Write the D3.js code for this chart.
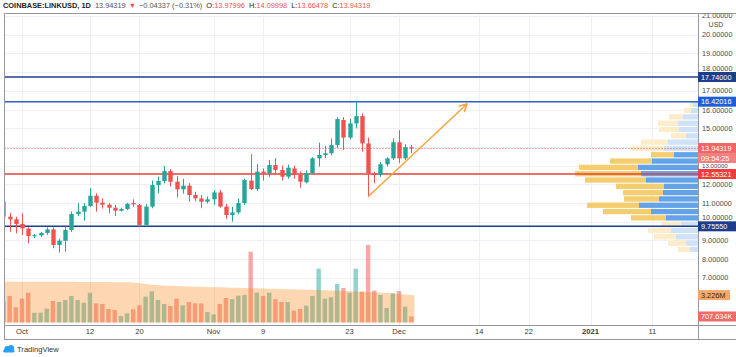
<!DOCTYPE html>
<html><head><meta charset="utf-8">
<script src="https://cdn.jsdelivr.net/npm/d3@7"></script>
<style>body{margin:0;background:#fff}svg{display:block}text{font-family:"Liberation Sans",Arial,sans-serif}</style>
</head><body><svg id="c" width="736" height="357"></svg>
<script>
// ---------------- DATA ----------------
const startDate = "2020-09-28"; // first daily candle, one per day
const open  = [11.07,10.27,10.13,9.88,9.63,9.24,9.27,9.40,9.59,8.76,8.98,9.56,10.41,10.54,10.84,11.39,11.02,10.91,10.75,10.59,10.68,11.00,10.90,9.83,10.81,11.96,12.18,12.71,12.14,11.73,11.93,11.43,11.25,11.07,11.20,11.57,10.81,10.36,10.50,11.00,12.20,11.75,12.68,12.60,13.03,12.77,12.41,12.85,12.50,12.11,12.59,13.39,13.57,13.66,14.10,15.44,14.50,15.26,15.65,14.19,12.59,12.50,13.07,13.39,14.25,13.39,13.97996];
const high  = [11.15,10.47,10.27,10.45,9.70,9.35,9.45,9.70,9.70,9.10,9.74,10.55,11.00,10.99,11.79,11.52,11.25,11.00,10.90,10.75,11.00,11.20,10.95,10.95,12.20,12.41,12.98,12.82,12.45,12.30,12.07,11.60,11.43,11.35,11.70,11.70,10.95,10.80,11.25,12.30,13.62,13.10,12.85,13.30,13.40,13.00,13.05,13.00,12.70,12.75,13.45,14.23,14.05,14.46,15.60,15.60,15.50,16.45,15.80,14.50,12.68,13.20,13.45,14.46,14.90,14.15,14.09998];
const low   = [10.20,9.47,9.38,9.29,8.85,9.12,9.18,9.30,8.58,8.35,8.40,9.45,10.30,10.06,10.80,10.54,10.70,10.45,10.30,10.55,10.62,10.80,9.74,9.74,10.72,11.52,12.05,11.88,11.30,11.50,11.07,11.10,10.72,10.98,10.90,10.75,10.15,10.00,10.40,10.90,11.70,11.65,12.20,12.40,12.50,12.20,12.30,12.30,11.82,12.05,12.55,12.95,13.40,13.55,13.95,13.83,14.40,14.99,13.75,11.34,12.06,12.40,12.95,13.30,13.13,13.30,13.66478];
const close = [10.27,10.13,9.88,9.65,9.24,9.28,9.40,9.59,8.76,8.99,9.56,10.41,10.54,10.84,11.39,11.02,10.91,10.75,10.59,10.68,10.96,10.93,9.83,10.81,11.96,12.18,12.71,12.14,11.73,11.93,11.43,11.25,11.07,11.20,11.57,10.81,10.36,10.50,11.00,12.23,11.75,12.68,12.60,13.03,12.77,12.41,12.89,12.50,12.14,12.59,13.39,13.57,13.66,14.10,15.49,14.50,15.26,15.65,14.19,12.59,12.50,13.07,13.39,14.25,13.39,13.98656,13.94319];
const volume = [2.56,3.12,1.79,2.80,3.50,1.15,1.15,1.63,2.53,2.41,2.65,3.12,2.65,2.33,3.50,2.25,2.18,1.59,1.47,0.76,1.08,1.55,2.02,3.04,3.67,2.65,2.18,1.94,2.80,2.02,2.41,2.25,2.25,1.24,0.96,2.18,2.88,2.76,3.16,3.24,8.33,3.50,3.12,3.50,2.73,2.41,2.41,1.39,1.59,1.98,3.12,6.33,2.80,2.96,4.53,4.06,3.50,6.33,3.63,9.12,3.75,3.24,1.71,3.43,3.70,1.86,0.707634]; // millions
const volumeMA = [4.80,4.80,4.80,4.80,4.80,4.80,4.79,4.79,4.79,4.78,4.78,4.78,4.77,4.77,4.77,4.76,4.76,4.76,4.75,4.75,4.74,4.70,4.62,4.52,4.44,4.38,4.34,4.31,4.28,4.26,4.24,4.22,4.20,4.18,4.16,4.14,4.12,4.10,4.08,4.06,4.04,4.02,4.00,3.98,3.96,3.94,3.92,3.90,3.88,3.86,3.84,3.82,3.79,3.76,3.73,3.70,3.67,3.64,3.61,3.58,3.55,3.51,3.46,3.41,3.35,3.29,3.226]; // millions
const priceTicks = [7,8,9,10,11,12,13,14,15,16,17,18,19,20,21];
const xTickDates  = ["2020-10-01","2020-10-12","2020-10-20","2020-11-01","2020-11-09","2020-11-23","2020-12-01","2020-12-14","2020-12-22","2021-01-01","2021-01-11"];
const xTickLabels = ["Oct","12","20","Nov","9","23","Dec","14","22","2021","11"];
const levels = [17.74, 16.42016, 12.55321, 9.7555];
const countdown = "09:54:25";
// volume profile, rows from top (high price) to bottom (low price)
const profileRange = [8.35, 16.45];
const profileUp   = [5,7,15,20,19,12,30,34,24,46,60,57,52,34,35,39,59,47,32,17,27,22,12,8];
const profileDown = [3,7,14,20,20,15,27,33,23,42,59,66,61,48,40,35,52,48,35,20,23,22,18,12];
const valueAreaRows = [8, 18];
const trendLine = [["2020-11-26", 11.34], ["2020-12-12", 16.30]];

// ---------------- LAYOUT ----------------
const W = 736, H = 357;
const plotL = 4.5, plotR = 698, plotT = 13, plotB = 325, frameB = 339;
const svg = d3.select("#c");
const parse = d3.utcParse("%Y-%m-%d");
const day0 = parse(startDate);
const dates = open.map((_, i) => d3.utcDay.offset(day0, i));

const x = d3.scaleUtc().domain([parse("2020-10-01"), parse("2021-01-11")]).range([22, 22 + 102 * 6.18]);
const y = d3.scaleLinear().domain([7, 21]).range([277.84, 16.04]);
const yv = d3.scaleLinear().domain([0, 10]).range([322.5, 237.5]);
const step = 6.18;
const bw = 4.4;
const AXF = 7.3; // axis font size

const UP = "#26a69a", DOWN = "#ef5350";

svg.append("defs").append("clipPath").attr("id", "plot")
  .append("rect").attr("x", plotL).attr("y", plotT).attr("width", plotR - plotL).attr("height", plotB - plotT);

// grid
const grid = svg.append("g").attr("clip-path", "url(#plot)");
grid.selectAll("line.v").data(xTickDates).join("line")
  .attr("x1", d => Math.round(x(parse(d))) + 0.5).attr("x2", d => Math.round(x(parse(d))) + 0.5)
  .attr("y1", plotT).attr("y2", plotB).attr("stroke", "#eef0f5").attr("stroke-width", 1);
grid.selectAll("line.h").data(priceTicks).join("line")
  .attr("x1", plotL).attr("x2", plotR)
  .attr("y1", d => Math.round(y(d)) + 0.5).attr("y2", d => Math.round(y(d)) + 0.5)
  .attr("stroke", "#eef0f5").attr("stroke-width", 1);

const plot = svg.append("g").attr("clip-path", "url(#plot)");

// volume bars
plot.selectAll("rect.vol").data(volume).join("rect")
  .attr("x", (d, i) => x(dates[i]) - bw / 2).attr("width", bw)
  .attr("y", d => yv(d)).attr("height", d => yv(0) - yv(d))
  .attr("fill", (d, i) => close[i] >= open[i] ? UP : DOWN).attr("opacity", 0.5);

// volume MA area
const area = d3.area().x((d, i) => x(dates[i])).y0(yv(0)).y1(d => yv(d));
plot.append("path").datum(volumeMA).attr("d", area)
  .attr("fill", "rgb(245,124,0)").attr("opacity", 0.3);
plot.append("rect").attr("x", x(dates[0]) - step / 2).attr("width", step / 2)
  .attr("y", yv(volumeMA[0])).attr("height", yv(0) - yv(volumeMA[0]))
  .attr("fill", "rgb(245,124,0)").attr("opacity", 0.3);
const li = volumeMA.length - 1;
plot.append("rect").attr("x", x(dates[li])).attr("width", step / 2)
  .attr("y", yv(volumeMA[li])).attr("height", yv(0) - yv(volumeMA[li]))
  .attr("fill", "rgb(245,124,0)").attr("opacity", 0.3);

// volume profile
const rows = profileUp.length;
const rowH = (y(profileRange[0]) - y(profileRange[1])) / rows;
const maxTot = d3.max(profileUp.map((u, i) => u + profileDown[i]));
const pw = d3.scaleLinear().domain([0, maxTot]).range([0, 123]);
const prof = plot.append("g");
profileUp.forEach((u, i) => {
  const top = y(profileRange[1]) + i * rowH + 0.5;
  const inVA = i >= valueAreaRows[0] && i <= valueAreaRows[1];
  const tot = u + profileDown[i];
  prof.append("rect").attr("x", plotR - pw(tot)).attr("width", pw(profileDown[i]))
    .attr("y", top).attr("height", rowH - 1).attr("fill", inVA ? "#f4cd6e" : "#fcecc9");
  prof.append("rect").attr("x", plotR - pw(u)).attr("width", pw(u))
    .attr("y", top).attr("height", rowH - 1).attr("fill", inVA ? "#64a3e8" : "#cfe2f7");
});

// level lines
const levelColors = ["#1f3f8a", "#2c5fcc", "#e5413a", "#1f3f8a"];
plot.selectAll("line.lvl").data(levels).join("line")
  .attr("x1", plotL).attr("x2", plotR)
  .attr("y1", d => y(d)).attr("y2", d => y(d))
  .attr("stroke", (d, i) => levelColors[i]).attr("stroke-width", 1.4);

// current price dotted line
const last = close.length - 1;
plot.append("line").attr("x1", plotL).attr("x2", plotR)
  .attr("y1", Math.round(y(close[last])) + 0.5).attr("y2", Math.round(y(close[last])) + 0.5)
  .attr("stroke", DOWN).attr("stroke-width", 1).attr("stroke-dasharray", "1,2");

// candles
const cg = plot.append("g");
close.forEach((c, i) => {
  const o = open[i], col = c >= o ? UP : DOWN;
  const cx = Math.round(x(dates[i])) + 0.5;
  cg.append("line").attr("x1", cx).attr("x2", cx).attr("y1", y(high[i])).attr("y2", y(low[i]))
    .attr("stroke", col).attr("stroke-width", 1);
  const t = y(Math.max(o, c)), b = y(Math.min(o, c));
  cg.append("rect").attr("x", cx - bw / 2).attr("width", bw).attr("y", t).attr("height", Math.max(1, b - t)).attr("fill", col);
});

// trend arrow
const p0 = [x(parse(trendLine[0][0])), y(trendLine[0][1])];
const p1 = [x(parse(trendLine[1][0])), y(trendLine[1][1])];
const ang = Math.atan2(p1[1] - p0[1], p1[0] - p0[0]);
const TR = "#f6a23c";
plot.append("line").attr("x1", p0[0]).attr("y1", p0[1]).attr("x2", p1[0]).attr("y2", p1[1])
  .attr("stroke", TR).attr("stroke-width", 1.5);
[0.5, -0.5].forEach(a => {
  plot.append("line").attr("x1", p1[0]).attr("y1", p1[1])
    .attr("x2", p1[0] - 8 * Math.cos(ang + a)).attr("y2", p1[1] - 8 * Math.sin(ang + a))
    .attr("stroke", TR).attr("stroke-width", 1.5).attr("stroke-linecap", "round");
});

// frame
const frame = svg.append("g").attr("stroke", "#9598a1").attr("stroke-width", 1).attr("shape-rendering", "crispEdges");
frame.append("line").attr("x1", 4).attr("x2", W).attr("y1", plotT).attr("y2", plotT);
frame.append("line").attr("x1", 4).attr("x2", 4).attr("y1", plotT).attr("y2", frameB);
frame.append("line").attr("x1", 4).attr("x2", W).attr("y1", plotB).attr("y2", plotB);
frame.append("line").attr("x1", 4).attr("x2", W).attr("y1", frameB).attr("y2", frameB);
frame.append("line").attr("x1", plotR).attr("x2", plotR).attr("y1", plotT).attr("y2", frameB);

// price axis labels
svg.append("defs").append("clipPath").attr("id", "axis")
  .append("rect").attr("x", plotR).attr("y", plotT + 0.5).attr("width", W - plotR).attr("height", plotB - plotT);
const ax = svg.append("g").attr("clip-path", "url(#axis)");

// tag centres (to keep partly-covered tick labels clear of tag texts)
const tagCentres = levels.map(v => y(v)).concat([y(close[last]), y(close[last]) + 10]);
const SEP = 9;
function tickInfo(v) {
  let p = y(v), fs = AXF;
  if (v === 21) return { p: 15.5, fs };
  const near = tagCentres.filter(t => Math.abs(p - t) >= 2 && Math.abs(p - t) < SEP);
  if (near.length === 1) {
    const t = near[0];
    const q = t + Math.sign(p - t) * SEP;
    const clash = tagCentres.some(u => u !== t && Math.abs(q - u) < SEP);
    if (!clash) p = q;
    else {
      const u = tagCentres.filter(u => u !== t && Math.abs(q - u) < SEP)[0];
      p = (t + u) / 2; fs = 6.2;
    }
  } else if (near.length >= 2) {
    p = (near[0] + near[1]) / 2; fs = 6.2;
  }
  return { p, fs };
}
ax.selectAll("text.pt").data(priceTicks).join("text")
  .attr("x", 702).attr("y", d => tickInfo(d).p).attr("dy", "0.35em")
  .attr("font-size", d => tickInfo(d).fs).attr("fill", "#4a4a4a")
  .text(d => d.toFixed(5));
ax.append("text").attr("x", 716).attr("y", 25).attr("dy", "0.35em").attr("text-anchor", "middle")
  .attr("font-size", 7).attr("fill", "#4a4a4a").text("USD");

function tag(val, text, bg, fg, w) {
  ax.append("rect").attr("x", plotR).attr("y", val - 5).attr("width", w || (W - plotR)).attr("height", 10).attr("fill", bg);
  ax.append("text").attr("x", plotR + 3).attr("y", val).attr("dy", "0.35em")
    .attr("font-size", AXF).attr("fill", fg).text(text);
}
const levelTagColors = ["#1d3d88", "#1f5fd6", "#f23b3b", "#1d3d88"];
levels.forEach((v, i) => tag(y(v), v.toFixed(5), levelTagColors[i], "#fff"));
tag(y(close[last]), close[last].toFixed(5), "#ef6767", "#fff");
tag(y(close[last]) + 10, countdown, "#f07f7f", "#fff");
tag(yv(volumeMA[li]), (volumeMA[li]).toFixed(3) + "M", "#f6a868", "#3a2a1a", 32);
tag(yv(volume[last]), (volume[last] * 1000).toFixed(3) + "K", "#ef6b6b", "#fff");

// x axis labels
svg.selectAll("text.xt").data(xTickDates).join("text")
  .attr("x", d => x(parse(d))).attr("y", 333.5).attr("text-anchor", "middle")
  .attr("font-size", 7.6).attr("fill", "#3a3a3a")
  .attr("font-weight", (d, i) => xTickLabels[i] === "2021" ? "bold" : "normal")
  .text((d, i) => xTickLabels[i]);

// header
const chg = close[last] - close[last - 1];
const pct = chg / close[last - 1] * 100;
const fmt = v => v.toFixed(5);
const hdr = svg.append("text").attr("x", 3).attr("y", 8).attr("font-size", 7.4).attr("fill", "#333");
hdr.append("tspan").attr("font-weight", "bold").attr("fill", "#222").text("COINBASE:LINKUSD, 1D");
hdr.append("tspan").attr("dx", 4).attr("fill", "#555").text(fmt(close[last]));
hdr.append("tspan").attr("dx", 3).attr("fill", DOWN).text("▼");
hdr.append("tspan").attr("dx", 3).attr("fill", "#555").text("−" + Math.abs(chg).toFixed(5) + " (−" + Math.abs(pct).toFixed(2) + "%)");
[["O:", open[last]], ["H:", high[last]], ["L:", low[last]], ["C:", close[last]]].forEach(([k, v]) => {
  hdr.append("tspan").attr("dx", 4).attr("fill", "#222").text(k);
  hdr.append("tspan").attr("fill", DOWN).text(fmt(v));
});

// TradingView logo
const logo = svg.append("g").attr("transform", "translate(3,344)");
logo.append("path").attr("d", "M0,8 L3,3.5 L5.5,6 L8,1.5 L11.5,8 Z").attr("fill", "#2a9df4");
logo.append("circle").attr("cx", 4).attr("cy", 4.5).attr("r", 2.6).attr("fill", "#2a9df4");
logo.append("circle").attr("cx", 8).attr("cy", 4).attr("r", 3).attr("fill", "#2a9df4");
logo.append("rect").attr("x", 0.5).attr("y", 5).attr("width", 11).attr("height", 3.5).attr("rx", 1.5).attr("fill", "#2a9df4");
svg.append("text").attr("x", 17).attr("y", 351.5).attr("font-size", 7.6).attr("fill", "#333").text("TradingView");
</script></body></html>
